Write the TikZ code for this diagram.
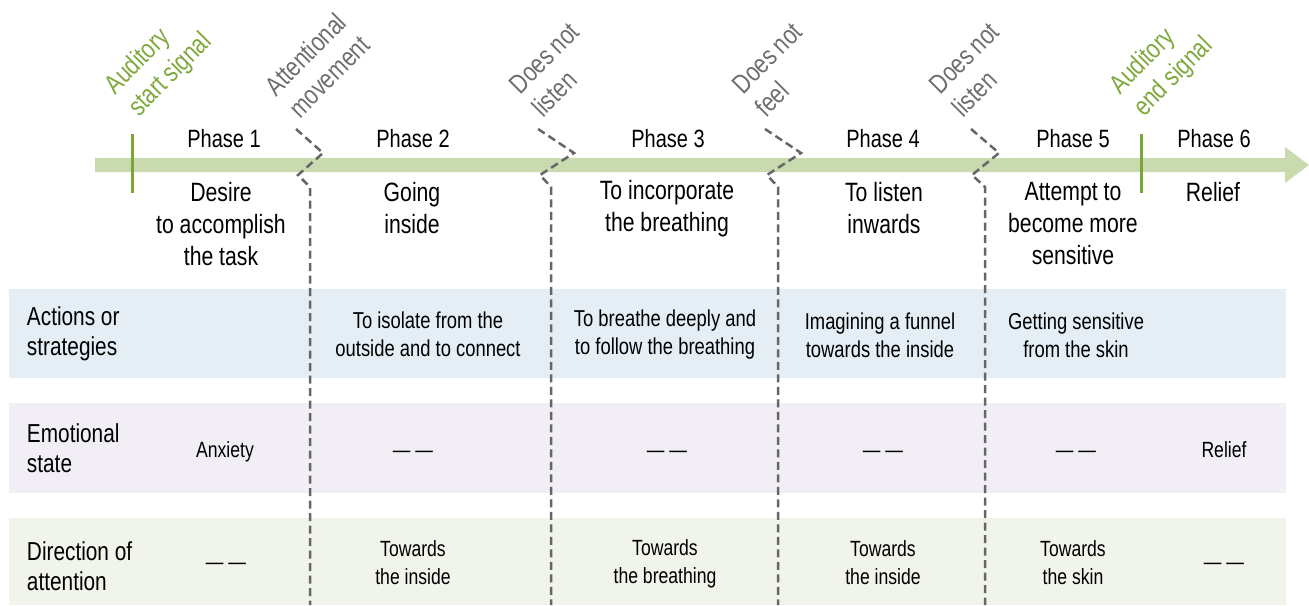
\documentclass[tikz,border=0pt]{standalone}
\usepackage{fontspec}
\setmainfont{Liberation Sans}[FakeStretch=0.8]
\definecolor{arrowgreen}{HTML}{C9DAAF}
\definecolor{tickgreen}{HTML}{7BA43A}
\definecolor{labgreen}{HTML}{7FA83C}
\definecolor{bandblue}{HTML}{E5EEF4}
\definecolor{bandpurple}{HTML}{F2EEF6}
\definecolor{bandgreen}{HTML}{F0F4EB}
\definecolor{dashgray}{HTML}{666666}
\definecolor{txtgray}{HTML}{6E6E6E}
\begin{document}
\begin{tikzpicture}[x=1pt,y=-1pt,
  every node/.style={inner sep=0pt, outer sep=0pt},
  phaselab/.style={font=\fontsize{25}{32}\selectfont, anchor=center},
  desclab/.style={font=\fontsize{26.5}{32}\selectfont, align=center, anchor=center},
  rowlab/.style={font=\fontsize{26}{30.5}\selectfont, align=left, anchor=west},
  bluecell/.style={font=\fontsize{23}{28}\selectfont, align=center, anchor=center},
  smallcell/.style={font=\fontsize{22}{28}\selectfont, align=center},
  rotlab/.style={font=\fontsize{27}{33}\selectfont, rotate=45, anchor=base west, text=txtgray},
  greenlab/.style={rotlab, text=labgreen},
  sepline/.style={draw=dashgray, line width=2.5pt, dash pattern=on 8pt off 4.5pt},
  tick/.style={draw=tickgreen, line width=3pt}
]
\useasboundingbox (0,0) rectangle (1309,605);

% bands
\fill[bandblue] (9,289) rectangle (1286,378);
\fill[bandpurple] (9,403) rectangle (1286,493);
\fill[bandgreen] (9,518) rectangle (1286,605);

% timeline arrow
\fill[arrowgreen] (95,158) -- (1285,158) -- (1285,147) -- (1309,165) -- (1285,183) -- (1285,172) -- (95,172) -- cycle;

% signal ticks
\coordinate (t1a) at (132,134); \coordinate (t1b) at (132,193);
\coordinate (t2a) at (1141,134); \coordinate (t2b) at (1141,193);
\draw[tick] (t1a) -- (t1b);
\draw[tick] (t2a) -- (t2b);

% dashed separators
\coordinate (s1a) at (296,129); \coordinate (s1b) at (323,153); \coordinate (s1c) at (298,175); \coordinate (s1d) at (310,187); \coordinate (s1e) at (310,605);
\coordinate (s2a) at (538,129); \coordinate (s2b) at (574,153); \coordinate (s2c) at (540,175); \coordinate (s2d) at (551,187); \coordinate (s2e) at (551,605);
\coordinate (s3a) at (765,129); \coordinate (s3b) at (801,153); \coordinate (s3c) at (767,175); \coordinate (s3d) at (778,187); \coordinate (s3e) at (778,605);
\coordinate (s4a) at (971,129); \coordinate (s4b) at (999,153); \coordinate (s4c) at (972,175); \coordinate (s4d) at (985,187); \coordinate (s4e) at (985,605);
\draw[sepline] (s1a) -- (s1b) -- (s1c) -- (s1d) -- (s1e);
\draw[sepline] (s2a) -- (s2b) -- (s2c) -- (s2d) -- (s2e);
\draw[sepline] (s3a) -- (s3b) -- (s3c) -- (s3d) -- (s3e);
\draw[sepline] (s4a) -- (s4b) -- (s4c) -- (s4d) -- (s4e);

% rotated labels (left-aligned, two lines)
\node[greenlab] (sig1a) at (115,95) {Auditory};
\node[greenlab] (sig1b) at (139,117) {start signal};
\node[rotlab] (att1) at (276,97) {Attentional};
\node[rotlab] (att2) at (300,119) {movement};
\node[rotlab] (dnl1a) at (520,95) {Does not};
\node[rotlab] (dnl1b) at (543,118) {listen};
\node[rotlab] (dnfa) at (743,95) {Does not};
\node[rotlab] (dnfb) at (766,118) {feel};
\node[rotlab] (dnl2a) at (940,95) {Does not};
\node[rotlab] (dnl2b) at (963,118) {listen};
\node[greenlab] (sig2a) at (1120,95) {Auditory};
\node[greenlab] (sig2b) at (1144,117) {end signal};

% phases
\node[phaselab] (p1) at (224,139) {Phase 1};
\node[phaselab] (p2) at (413,139) {Phase 2};
\node[phaselab] (p3) at (668,139) {Phase 3};
\node[phaselab] (p4) at (883,139) {Phase 4};
\node[phaselab] (p5) at (1073,139) {Phase 5};
\node[phaselab] (p6) at (1214,139) {Phase 6};

% phase descriptions
\node[desclab] (d1) at (221,224) {Desire\\to accomplish\\the task};
\node[desclab] (d2) at (412,208) {Going\\inside};
\node[desclab] (d3) at (667,209) {To incorporate\\the breathing};
\node[desclab] (d4) at (884,208) {To listen\\inwards};
\node[desclab] (d5) at (1073,224) {Attempt to\\become more\\sensitive};
\node[desclab] (d6) at (1213,192) {Relief};

% row labels
\node[rowlab] (r1) at (27,334) {Actions or\\strategies};
\node[rowlab] (r2) at (27,448) {Emotional\\state};
\node[rowlab] (r3) at (27,566) {Direction of\\attention};

% actions row
\node[bluecell] (a2) at (428,334) {To isolate from the\\outside and to connect};
\node[bluecell] (a3) at (665,335) {To breathe deeply and\\to follow the breathing};
\node[bluecell] (a4) at (880,335) {Imagining a funnel\\towards the inside};
\node[bluecell] (a5) at (1076,335) {Getting sensitive\\from the skin};

% emotional row
\node[smallcell, anchor=base] (e1) at (225,457) {Anxiety};
\node[smallcell, anchor=base] (e2) at (413,457) {— —};
\node[smallcell, anchor=base] (e3) at (667,457) {— —};
\node[smallcell, anchor=base] (e4) at (883,457) {— —};
\node[smallcell, anchor=base] (e5) at (1076,457) {— —};
\node[smallcell, anchor=base] (e6) at (1224,457) {Relief};

% direction row
\node[smallcell, anchor=base] (g1) at (226,569) {— —};
\node[smallcell, anchor=center] (g2) at (413,563) {Towards\\the inside};
\node[smallcell, anchor=center] (g3) at (665,564) {Towards\\the breathing};
\node[smallcell, anchor=center] (g4) at (883,563) {Towards\\the inside};
\node[smallcell, anchor=center] (g5) at (1073,563) {Towards\\the skin};
\node[smallcell, anchor=base] (g6) at (1224,569) {— —};
\end{tikzpicture}
\end{document}
